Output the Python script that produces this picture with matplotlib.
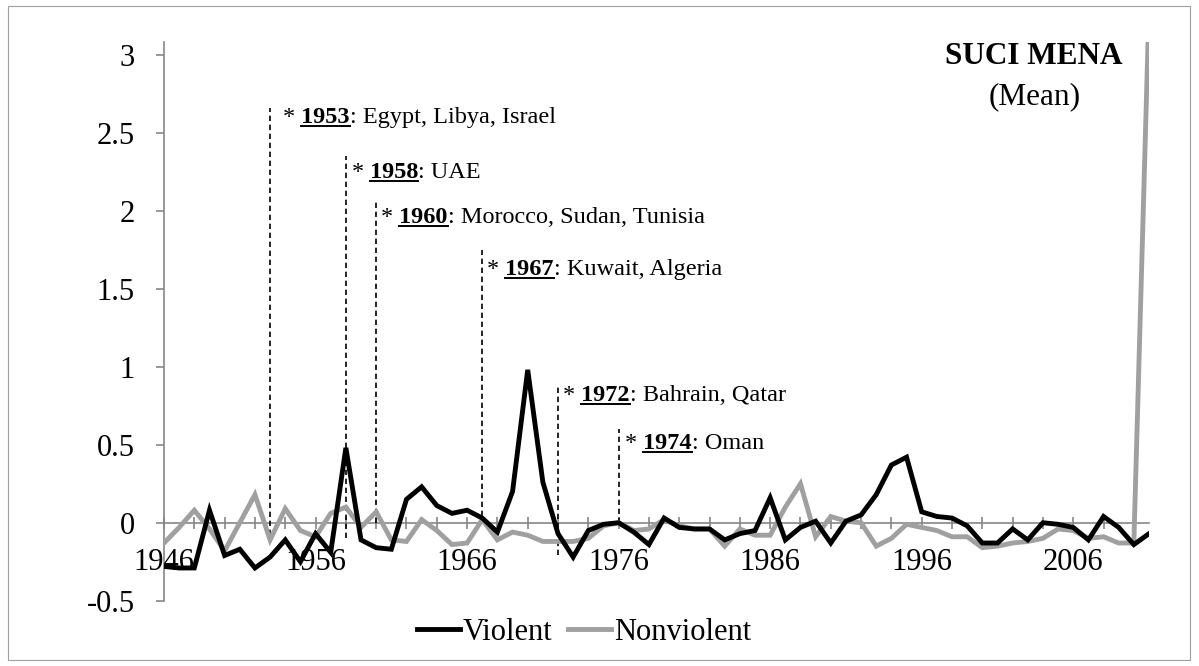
import matplotlib
matplotlib.use("Agg")
import matplotlib.pyplot as plt
from matplotlib.lines import Line2D
from matplotlib.patches import Rectangle
import numpy as np

plt.rcParams['font.family'] = ['Liberation Serif', 'DejaVu Serif']

years = list(range(1946, 2012))

violent = [-0.28, -0.29, -0.29, 0.08, -0.21, -0.17, -0.29, -0.22, -0.11, -0.25,
           -0.07, -0.19, 0.48, -0.11, -0.16, -0.17, 0.15, 0.23, 0.11, 0.06,
           0.08, 0.03, -0.06, 0.20, 0.98, 0.26, -0.07, -0.22, -0.05, -0.01,
           0.00, -0.06, -0.14, 0.03, -0.03, -0.04, -0.04, -0.11, -0.07, -0.05,
           0.16, -0.11, -0.03, 0.01, -0.13, 0.01, 0.05, 0.18, 0.37, 0.42,
           0.07, 0.04, 0.03, -0.02, -0.13, -0.13, -0.04, -0.11, 0.00, -0.01,
           -0.03, -0.11, 0.04, -0.03, -0.14, -0.07]

nonviolent = [-0.13, -0.03, 0.08, -0.04, -0.18, 0.00, 0.18, -0.11, 0.09, -0.05,
              -0.09, 0.06, 0.10, -0.03, 0.07, -0.11, -0.12, 0.02, -0.05, -0.14,
              -0.13, 0.02, -0.11, -0.06, -0.08, -0.12, -0.12, -0.12, -0.10, -0.02,
              0.00, -0.05, -0.04, 0.02, -0.02, -0.04, -0.04, -0.15, -0.04, -0.08,
              -0.08, 0.10, 0.25, -0.09, 0.04, 0.01, 0.00, -0.15, -0.10, -0.01,
              -0.03, -0.05, -0.09, -0.09, -0.16, -0.15, -0.13, -0.12, -0.10, -0.04,
              -0.05, -0.10, -0.09, -0.13, -0.13, 3.30]

# independence markers
mark_years = ['1953', '1958', '1960', '1967', '1972', '1974']
mark_countries = [': Egypt, Libya, Israel', ': UAE', ': Morocco, Sudan, Tunisia',
                  ': Kuwait, Algeria', ': Bahrain, Qatar', ': Oman']
mark_x = [1953, 1958, 1960, 1967, 1972, 1976]
mark_top = [2.66, 2.35, 2.06, 1.75, 0.89, 0.60]
mark_bottom = [-0.08, -0.10, 0.0, 0.04, -0.21, 0.0]
mark_text_y = [2.56, 2.21, 1.92, 1.59, 0.78, 0.47]
mark_dx = [13, 6, 5, 5, 5, 6]

fig = plt.figure(figsize=(11.99, 6.66), dpi=100)
ax = fig.add_axes([0.1368, 0.098, 0.8215, 0.8386])

axis_grey = '#868686'
line_grey = '#a0a0a0'

for x, top, bot in zip(mark_x, mark_top, mark_bottom):
    ax.plot([x, x], [bot, top], color='black', lw=1.2, dashes=(3.2, 2.2), zorder=2)

ax.plot(years, nonviolent, color=line_grey, lw=3.5, zorder=3, label='Nonviolent',
        solid_joinstyle='miter')
ax.plot(years, violent, color='black', lw=3.5, zorder=4, label='Violent',
        solid_joinstyle='miter')

ax.set_xlim(1946, 2011)
ax.set_ylim(-0.5, 3.08)

ax.spines['top'].set_visible(False)
ax.spines['right'].set_visible(False)
ax.spines['bottom'].set_position(('data', 0))
for s in ['left', 'bottom']:
    ax.spines[s].set_color(axis_grey)
    ax.spines[s].set_linewidth(1.2)
    ax.spines[s].set_zorder(1)

xt = list(range(1946, 2011, 2))
ax.set_xticks(xt)
ax.set_xticklabels([str(y) if (y - 1946) % 10 == 0 else '' for y in xt])
ax.tick_params(axis='x', direction='inout', length=9, width=1.2, color=axis_grey,
               labelsize=22, pad=14)
ax.set_yticks([-0.5, 0, 0.5, 1, 1.5, 2, 2.5, 3])
ax.set_yticklabels(['-0.5', '0', '0.5', '1', '1.5', '2', '2.5', '3'])
ax.tick_params(axis='y', direction='out', length=6, width=1.2, color=axis_grey,
               labelsize=22, pad=15)

bold_texts = []
for x, ty, yr, rest, dx in zip(mark_x, mark_text_y, mark_years, mark_countries, mark_dx):
    t1 = ax.annotate('* ', xy=(x, ty), xytext=(dx, 0), textcoords='offset pixels',
                     fontsize=17.5, va='baseline', ha='left')
    t2 = ax.annotate(yr, xy=(1, 0), xycoords=t1, va='bottom', ha='left',
                     fontsize=17.5, fontweight='bold')
    t3 = ax.annotate(rest, xy=(1, 0), xycoords=t2, va='bottom', ha='left',
                     fontsize=17.5)
    bold_texts.append(t2)

fig.text(1034 / 1199, 1 - 57 / 666, 'SUCI MENA', fontsize=22.5, fontweight='bold',
         ha='center', va='center')
fig.text(1035 / 1199, 1 - 97 / 666, '(Mean)', fontsize=22.5, ha='center', va='center')

handles = [Line2D([], [], color='black', lw=3.5), Line2D([], [], color=line_grey, lw=3.5)]
fig.legend(handles, ['Violent', 'Nonviolent'], loc='center', ncol=2, frameon=False,
           bbox_to_anchor=(0.487, 0.051), fontsize=22, handlelength=1.4,
           handletextpad=0.1, columnspacing=0.5)

fig.patches.append(Rectangle((8 / 1199, 6 / 666), 1182 / 1199, 654 / 666,
                             transform=fig.transFigure, fill=False,
                             ec='#a0a0a0', lw=0.8))

# underline the bold years
fig.canvas.draw()
inv = fig.transFigure.inverted()
for t in bold_texts:
    bb = t.get_window_extent()
    (x0, y0), (x1, _) = inv.transform([(bb.x0, bb.y0 + 2), (bb.x1, bb.y0 + 2)])
    fig.add_artist(Line2D([x0, x1], [y0, y0], color='black', lw=1.4,
                          transform=fig.transFigure))

fig.savefig('out.png', dpi=100)
